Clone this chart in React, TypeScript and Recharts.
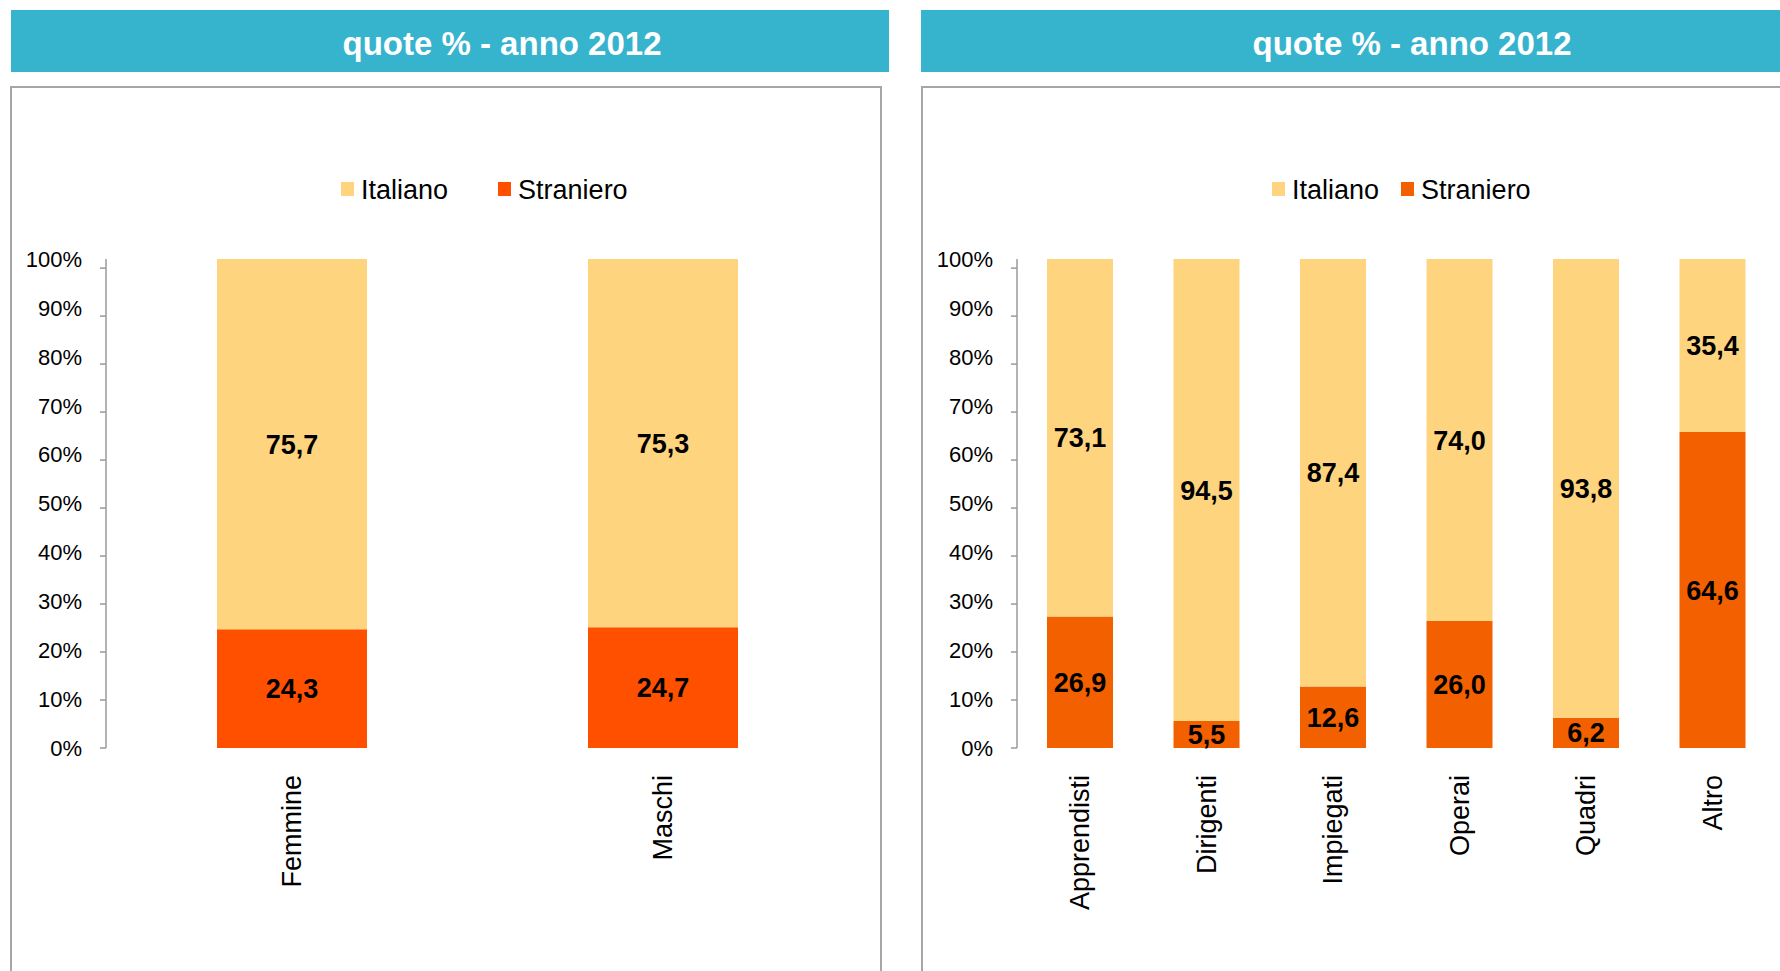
import { Bar, ComposedChart, LabelList, Legend, Line, XAxis, YAxis } from "recharts";

const tickValues = [0, 10, 20, 30, 40, 50, 60, 70, 80, 90, 100];
const seriesOrder = ["Italiano", "Straniero"];
const titleText = "quote % - anno 2012";

const genderCategories = ["Femmine", "Maschi"];
const genderItaliano = [75.7, 75.3];
const genderStraniero = [24.3, 24.7];

const roleCategories = ["Apprendisti", "Dirigenti", "Impiegati", "Operai", "Quadri", "Altro"];
const roleItaliano = [73.1, 94.5, 87.4, 74.0, 93.8, 35.4];
const roleStraniero = [26.9, 5.5, 12.6, 26.0, 6.2, 64.6];

const ITALIANO = "#ffd47f";
const AXIS = "#9a9a9a";
const FONT = "'Liberation Sans', Arial, sans-serif";

const fmt = (v: any) => Number(v).toFixed(1).replace(".", ",");

function CategoryTick({ x, y, payload }: any) {
  return (
    <text
      transform={`translate(${x},${y + 27}) rotate(-90)`}
      textAnchor="end"
      dominantBaseline="central"
      fontSize={27}
      fill="#000"
    >
      {payload.value}
    </text>
  );
}

function legendContent(left: number, gap: number) {
  return (props: any) => {
    const items = [...(props.payload || [])]
      .filter((it: any) => seriesOrder.includes(it.value))
      .sort((a: any, b: any) => seriesOrder.indexOf(a.value) - seriesOrder.indexOf(b.value));
    return (
      <div style={{ position: "absolute", left, top: 0, display: "flex", whiteSpace: "nowrap" }}>
        {items.map((it: any, i: number) => (
          <div key={it.value} style={{ display: "flex", alignItems: "flex-start", marginLeft: i ? gap : 0 }}>
            <span style={{ width: 13, height: 14, marginTop: 5, marginRight: 7, background: it.color }} />
            <span style={{ fontSize: 27, lineHeight: "27px", color: "#000" }}>{it.value}</span>
          </div>
        ))}
      </div>
    );
  };
}

type PanelProps = {
  categories: string[];
  italiano: number[];
  straniero: number[];
  width: number;
  axisWidth: number;
  marginRight: number;
  barSize: number;
  stranieroColor: string;
  legendLeft: number;
  legendGap: number;
};

function Panel(p: PanelProps) {
  const data = p.categories.map((name, i) => ({
    name,
    Italiano: p.italiano[i],
    Straniero: p.straniero[i],
  }));

  return (
    <ComposedChart
      width={p.width}
      height={971}
      data={data}
      margin={{ top: 259, right: p.marginRight, bottom: 23, left: 0 }}
      barSize={p.barSize}
    >
      <XAxis
        dataKey="name"
        height={200}
        axisLine={false}
        tickLine={false}
        tickSize={0}
        tickMargin={0}
        interval={0}
        tick={<CategoryTick />}
      />
      {/* tick marks sit on a slightly shorter scale than the bars, as in the original */}
      <YAxis
        yAxisId="a"
        type="number"
        domain={[0, 101.9]}
        ticks={tickValues}
        width={1}
        axisLine={{ stroke: AXIS, strokeWidth: 1.5 }}
        tickLine={{ stroke: AXIS, strokeWidth: 1.5 }}
        tickSize={6}
        tick={() => <g />}
      />
      <YAxis
        yAxisId="b"
        type="number"
        domain={[0, 100]}
        ticks={tickValues}
        width={p.axisWidth - 1}
        axisLine={false}
        tickLine={false}
        tickSize={0}
        tickMargin={23}
        tickFormatter={(v) => `${v}%`}
        tick={{ fill: "#000", fontSize: 22 }}
      />
      <Legend
        layout="horizontal"
        verticalAlign="middle"
        align="center"
        wrapperStyle={{ top: 177, left: 0, width: p.width, height: 30 }}
        content={legendContent(p.legendLeft, p.legendGap)}
      />
      <Bar dataKey="Straniero" stackId="s" yAxisId="b" fill={p.stranieroColor} isAnimationActive={false}>
        <LabelList dataKey="Straniero" position="center" formatter={fmt} fill="#000" fontSize={27} fontWeight="bold" />
      </Bar>
      <Bar dataKey="Italiano" stackId="s" yAxisId="b" fill={ITALIANO} isAnimationActive={false}>
        <LabelList dataKey="Italiano" position="center" formatter={fmt} fill="#000" fontSize={27} fontWeight="bold" />
      </Bar>
      {/* invisible series so the tick-mark axis gets a scale */}
      <Line
        name="tickScale"
        dataKey="Straniero"
        yAxisId="a"
        stroke="none"
        dot={false}
        activeDot={false}
        legendType="none"
        isAnimationActive={false}
      />
    </ComposedChart>
  );
}

const titleStyle = {
  position: "absolute" as const,
  top: 10,
  height: 62,
  background: "#36b3cd",
};

const titleTextStyle = {
  position: "absolute" as const,
  top: 27,
  width: 500,
  textAlign: "center" as const,
  color: "#fff",
  fontWeight: "bold" as const,
  fontSize: 33,
  lineHeight: "33px",
  whiteSpace: "nowrap" as const,
};

const frameStyle = {
  position: "absolute" as const,
  top: 86,
  height: 1000,
  border: "2px solid #a6a6a6",
  boxSizing: "border-box" as const,
};

export default function App() {
  return (
    <div
      style={{
        position: "relative",
        width: 1780,
        height: 971,
        overflow: "hidden",
        background: "#fff",
        fontFamily: FONT,
      }}
    >
      <style>{"body{margin:0}"}</style>

      <div style={{ ...titleStyle, left: 11, width: 878 }} />
      <div style={{ ...titleTextStyle, left: 252 }}>{titleText}</div>
      <div style={{ ...titleStyle, left: 921, width: 859 }} />
      <div style={{ ...titleTextStyle, left: 1162 }}>{titleText}</div>

      <div style={{ ...frameStyle, left: 10, width: 872 }} />
      <div style={{ ...frameStyle, left: 921, width: 1000 }} />

      <div style={{ position: "absolute", left: 0, top: 0 }}>
        <Panel
          categories={genderCategories}
          italiano={genderItaliano}
          straniero={genderStraniero}
          width={882}
          axisWidth={106}
          marginRight={34}
          barSize={150}
          stranieroColor="#ff5000"
          legendLeft={341}
          legendGap={50}
        />
      </div>
      <div style={{ position: "absolute", left: 921, top: 0 }}>
        <Panel
          categories={roleCategories}
          italiano={roleItaliano}
          straniero={roleStraniero}
          width={859}
          axisWidth={96}
          marginRight={4}
          barSize={66}
          stranieroColor="#f26000"
          legendLeft={351}
          legendGap={22}
        />
      </div>
    </div>
  );
}
